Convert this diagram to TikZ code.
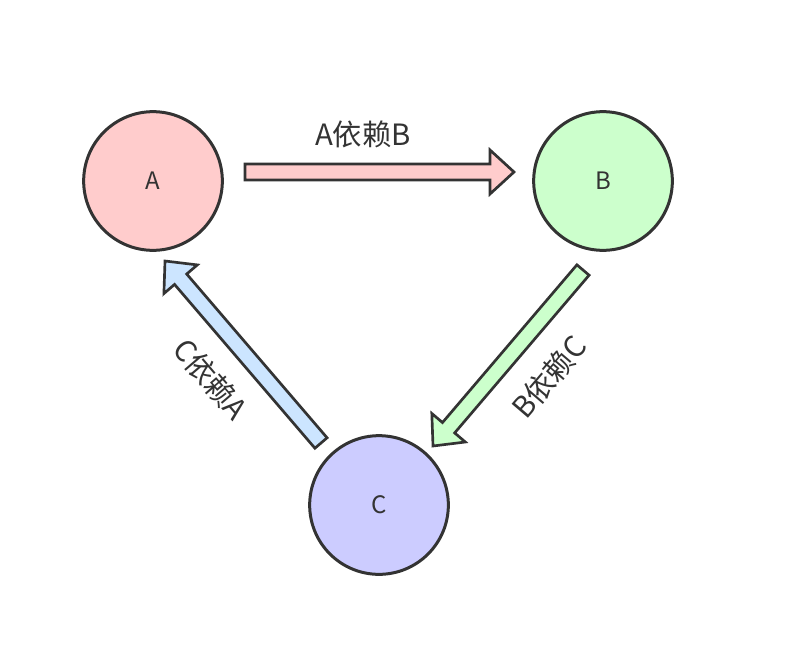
\documentclass[tikz,border=0pt]{standalone}
\usepackage{fontspec}
\setmainfont{Noto Sans CJK SC}
\usetikzlibrary{calc}
\definecolor{fillA}{HTML}{FFCCCC}
\definecolor{fillB}{HTML}{CCFFCC}
\definecolor{fillC}{HTML}{CCCCFF}
\definecolor{fillCA}{HTML}{CCE5FF}
\definecolor{edge}{HTML}{333333}
\newcommand\fatarrow[3]{%
  \path (#3) coordinate (ft) ($(#3)!18pt!(#2)$) coordinate (fb);
  \draw[fat,fill=#1] ($(#2)!6pt!90:(#3)$) -- ($(fb)!6pt!90:(ft)$) -- ($(fb)!16.5pt!90:(ft)$) -- (ft)
    -- ($(fb)!16.5pt!-90:(ft)$) -- ($(fb)!6pt!-90:(ft)$) -- ($(#2)!6pt!-90:(#3)$) -- cycle;}

\begin{document}
\begin{tikzpicture}[x=0.75pt,y=-0.75pt,
  circ/.style={circle,draw=edge,line width=2.25pt,minimum size=104pt,text=edge,font=\fontsize{18}{20}\selectfont},
  fat/.style={draw=edge,line width=2pt,line join=miter},
  lbl/.style={text=edge,font=\fontsize{22}{24}\selectfont}]
  \useasboundingbox (0,0) rectangle (798,660);
  \node[circ,fill=fillA] (A) at (153,181) {A};
  \node[circ,fill=fillB] (B) at (603,181) {B};
  \node[circ,fill=fillC] (C) at (379,505) {C};
  \coordinate (ab1) at ($(A)+(92,-9)$);
  \coordinate (ab2) at ($(B)+(-89,-9)$);
  \coordinate (bc1) at ($(B)+(-20,89)$);
  \coordinate (bc2) at ($(C)+(54,-59)$);
  \coordinate (ca1) at ($(C)+(-58,-62)$);
  \coordinate (ca2) at ($(A)+(12,80)$);
  \fatarrow{fillA}{ab1}{ab2}
  \fatarrow{fillB}{bc1}{bc2}
  \fatarrow{fillCA}{ca1}{ca2}
  \node[lbl] (lab) at (363,134) {A依赖B};
  \node[lbl,rotate=49.5] (lbc) at (549,377) {B依赖C};
  \node[lbl,rotate=-49.5] (lca) at (211,379) {C依赖A};
\end{tikzpicture}
\end{document}
